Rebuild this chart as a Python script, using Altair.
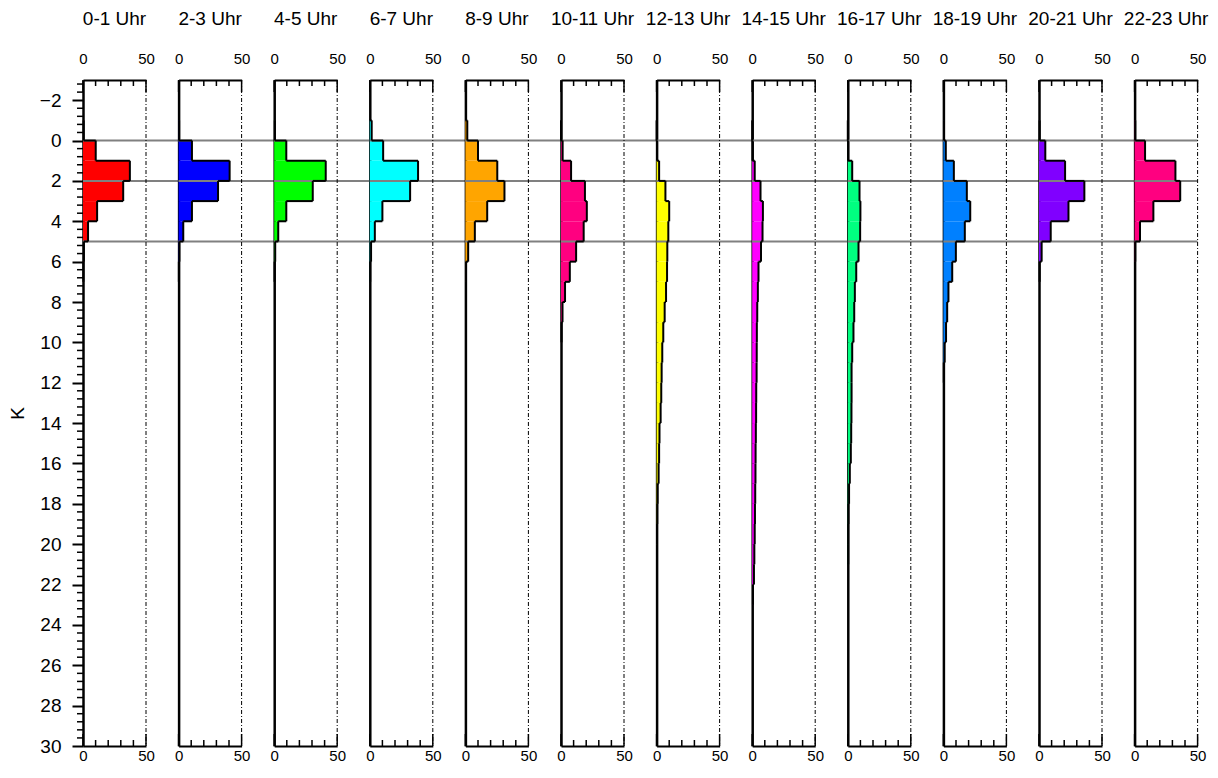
import altair as alt
import pandas as pd

# ---------------- data ----------------
hours = ["0-1 Uhr", "2-3 Uhr", "4-5 Uhr", "6-7 Uhr", "8-9 Uhr", "10-11 Uhr",
         "12-13 Uhr", "14-15 Uhr", "16-17 Uhr", "18-19 Uhr", "20-21 Uhr", "22-23 Uhr"]
colors = ["#ff0000", "#0000ff", "#00ff00", "#00ffff", "#ffa500", "#ff0080",
          "#ffff00", "#ff00ff", "#00ff80", "#0080ff", "#8000ff", "#ff0080"]

k_start = -1  # first bin is K in [-1, 0)
h00 = [0.5, 10.1, 37.2, 31.9, 11.2, 4.0, 0.7, 0.3]
h02 = [0.4, 10.6, 40.5, 31.3, 10.6, 3.7, 0.6, 0.2]
h04 = [0.5, 9.6, 40.9, 30.6, 9.6, 3.2, 0.8, 0.3]
h06 = [1.5, 10.6, 38.3, 32.0, 10.0, 4.0, 1.0, 0.3]
h08 = [1.5, 10.0, 25.3, 31.0, 17.3, 7.5, 2.2, 0.5]
h10 = [0.0, 1.3, 8.0, 19.0, 20.5, 18.0, 12.0, 7.0, 3.2, 1.2, 0.4]
h12 = [0.0, 0.3, 2.0, 7.0, 10.0, 9.3, 8.5, 8.3, 7.5, 6.4, 5.3, 4.5, 4.0, 3.7, 3.2,
       2.3, 2.0, 1.6, 0.8, 0.5, 0.3]
h14 = [0.0, 0.2, 2.0, 6.6, 8.5, 8.2, 7.0, 5.0, 4.5, 4.0, 3.7, 3.6, 3.5, 3.2, 3.1,
       2.9, 2.7, 2.6, 2.4, 2.2, 2.0, 1.7, 1.4, 0.6]
h16 = [0.0, 0.2, 3.5, 9.3, 10.0, 9.8, 8.5, 6.7, 5.6, 5.1, 4.5, 3.5, 3.0, 3.0, 2.9,
       2.7, 2.4, 1.6, 1.0, 0.5, 0.3, 0.3]
h18 = [0.5, 1.9, 8.3, 18.6, 21.3, 17.0, 9.9, 7.0, 4.0, 3.0, 2.1, 1.0, 0.3]
h20 = [0.5, 5.0, 20.7, 36.0, 23.4, 9.3, 2.1, 0.5]
h22 = [0.5, 8.3, 32.4, 36.2, 14.9, 4.3, 0.5]
counts = [h00, h02, h04, h06, h08, h10, h12, h14, h16, h18, h20, h22]

ref_lines = [0, 2, 5]
x_major = [0, 50]
x_minor = [10, 20, 30, 40]
y_labels = list(range(-2, 31, 2))
y_minor = [-2.8, -2.4, -1.6, -1.2, -0.8, -0.4, 0.4, 0.8, 1.2, 1.6, 2.4, 2.8, 3.2, 3.6,
           4.4, 4.8, 5.2, 5.6, 6.4, 6.8, 7.2, 7.6, 8.4, 8.8, 9.2, 9.6, 10.4, 10.8,
           11.2, 11.6, 12.4, 12.8, 13.2, 13.6, 14.4, 14.8, 15.2, 15.6, 16.4, 16.8,
           17.2, 17.6, 18.4, 18.8, 19.2, 19.6, 20.4, 20.8, 21.2, 21.6, 22.4, 22.8,
           23.2, 23.6, 24.4, 24.8, 25.2, 25.6, 26.4, 26.8, 27.2, 27.6, 28.4, 28.8,
           29.2, 29.6]
x_domain = [0, 50]
y_domain = [-3, 30]

# ---------------- layout / style ----------------
W = 63
H = 666
GAP = 32.6
FONT = "Liberation Sans"

xs = alt.Scale(domain=x_domain, nice=False, zero=False)
ys = alt.Scale(domain=y_domain, nice=False, zero=False, reverse=True)


def panel(i):
    vals = counts[i]
    n = len(vals)
    ks = [k_start + j for j in range(n)]
    bins = pd.DataFrame({"k": ks, "k2": [k + 1 for k in ks], "n": vals, "z": [0] * n})
    horiz = pd.DataFrame({"k": [k_start + j for j in range(n + 1)],
                          "a": [0] + vals, "b": vals + [0]})

    top_axis = alt.Axis(orient="top", values=x_major, ticks=False, tickSize=0,
                        domainColor="black", domainWidth=2, labelFontSize=15,
                        labelPadding=14, labelColor="black", grid=False, title="",
                        labelFlush=False)
    bot_axis = alt.Axis(orient="bottom", values=x_major, ticks=False, tickSize=0,
                        domainColor="black", domainWidth=2, labelFontSize=15,
                        labelPadding=2, labelColor="black", grid=False, title="",
                        labelFlush=False)
    if i == 0:
        y_axis = alt.Axis(orient="left", values=y_labels, tickSize=11, tickWidth=2,
                          tickColor="black", domainColor="black", domainWidth=2.5,
                          labelFontSize=19, labelPadding=11, labelColor="black",
                          grid=False, title="K", titleFontSize=19,
                          titleFontWeight="normal", titleColor="black",
                          titlePadding=12, labelFlush=False)
    else:
        y_axis = alt.Axis(orient="left", labels=False, ticks=False, domainColor="black",
                          domainWidth=2.5, grid=False, title="")

    fill = alt.Chart(bins).mark_rect(color=colors[i], strokeWidth=0).encode(
        x=alt.X("z:Q", scale=xs, axis=top_axis),
        x2="n:Q",
        y=alt.Y("k:Q", scale=ys, axis=y_axis),
        y2="k2:Q",
    )

    span = W + GAP if i < len(counts) - 1 else W
    grey = alt.Chart(pd.DataFrame({"r": ref_lines})).mark_rule(
        color="#808080", strokeWidth=2).encode(
        y=alt.Y("r:Q", scale=ys), x=alt.value(0), x2=alt.value(span))

    vert = alt.Chart(bins).mark_rule(color="black", strokeWidth=2).encode(
        x=alt.X("n:Q", scale=xs, axis=None), y=alt.Y("k:Q", scale=ys), y2="k2:Q")
    hor = alt.Chart(horiz).mark_rule(color="black", strokeWidth=2).encode(
        y=alt.Y("k:Q", scale=ys), x=alt.X("a:Q", scale=xs, axis=None), x2="b:Q")

    right = alt.Chart(pd.DataFrame({"v": [x_domain[1]]})).mark_rule(
        color="black", strokeWidth=1, strokeDash=[4, 2, 1, 2]).encode(
        x=alt.X("v:Q", scale=xs, axis=bot_axis), y=alt.value(0), y2=alt.value(H))

    tmaj = pd.DataFrame({"t": x_major})
    tmin = pd.DataFrame({"t": x_minor})
    ticks = [
        alt.Chart(tmaj).mark_rule(color="black", strokeWidth=1.5).encode(
            x=alt.X("t:Q", scale=xs, axis=None), y=alt.value(0), y2=alt.value(12)),
        alt.Chart(tmaj).mark_rule(color="black", strokeWidth=1.5).encode(
            x=alt.X("t:Q", scale=xs, axis=None), y=alt.value(H), y2=alt.value(H - 12)),
        alt.Chart(tmin).mark_rule(color="black", strokeWidth=1.5).encode(
            x=alt.X("t:Q", scale=xs, axis=None), y=alt.value(0), y2=alt.value(6)),
        alt.Chart(tmin).mark_rule(color="black", strokeWidth=1.5).encode(
            x=alt.X("t:Q", scale=xs, axis=None), y=alt.value(H), y2=alt.value(H - 6)),
    ]
    layers = [fill, grey, vert, hor, right] + ticks
    if i == 0:
        minor_y = alt.Chart(pd.DataFrame({"m": y_minor})).mark_rule(
            color="black", strokeWidth=1.5).encode(
            y=alt.Y("m:Q", scale=ys), x=alt.value(0), x2=alt.value(-6))
        layers.append(minor_y)

    return alt.layer(*layers).resolve_axis(x="independent").properties(
        width=W, height=H,
        title=alt.TitleParams(text=hours[i], fontSize=19, fontWeight="normal",
                              offset=22, anchor="middle", color="black"),
    )


chart = alt.hconcat(*[panel(i) for i in range(len(counts))], spacing=GAP,
                    bounds="flush").properties(
    padding={"left": 0, "top": 2, "right": 0, "bottom": 0}
).configure(font=FONT).configure_view(strokeWidth=0)

chart.save("out.html", embed_options={"renderer": "svg", "actions": False})
